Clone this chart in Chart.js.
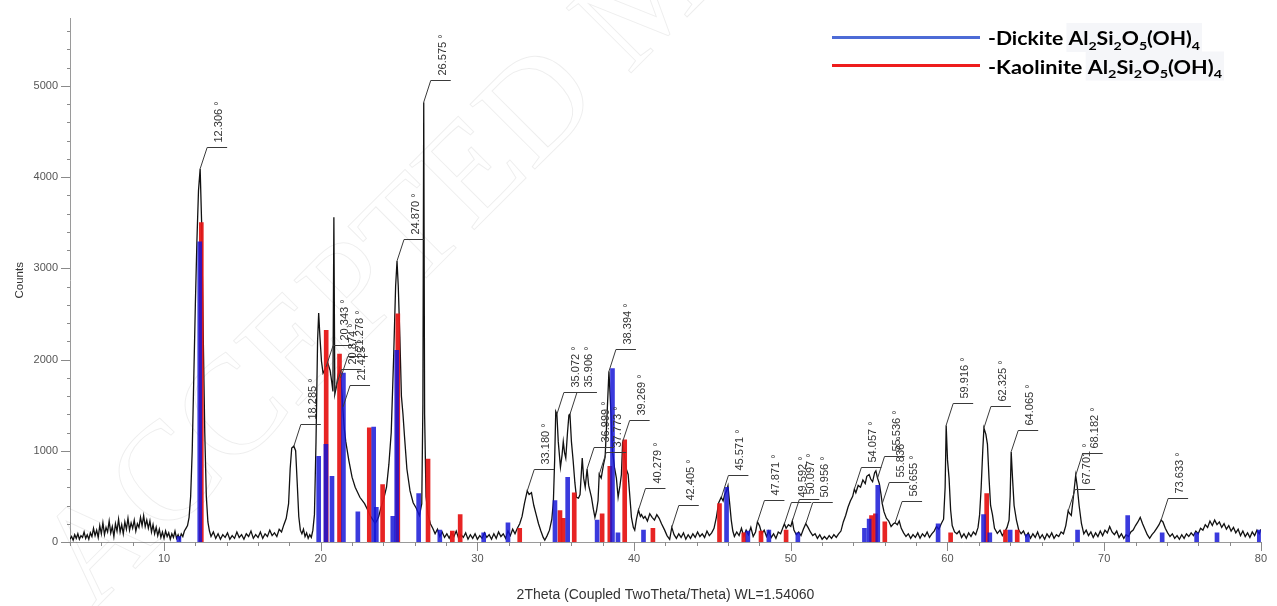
<!DOCTYPE html>
<html>
<head>
<meta charset="utf-8">
<title>XRD pattern – Dickite / Kaolinite</title>
<script src="https://cdn.jsdelivr.net/npm/chart.js@4.4.1/dist/chart.umd.min.js"></script>
<style>
  html, body { margin: 0; padding: 0; background: #fff; }
  canvas { display: block; }
</style>
</head>
<body>
<canvas id="xrd" width="1277" height="606"></canvas>
<script>
// Measured scan: [2theta (deg), counts]
const scan = [
  [4.0,30],[4.1,60],[4.2,20],[4.3,80],[4.4,40],[4.5,90],[4.6,30],[4.7,70],[4.8,50],[4.9,110],
  [5.0,40],[5.1,80],[5.2,30],[5.3,100],[5.4,60],[5.5,150],[5.6,70],[5.7,130],[5.8,50],[5.9,180],
  [6.0,90],[6.1,210],[6.2,80],[6.3,160],[6.4,110],[6.5,230],[6.6,100],[6.7,170],[6.8,60],[6.9,200],
  [7.0,120],[7.1,250],[7.2,110],[7.3,190],[7.4,90],[7.5,220],[7.6,140],[7.7,260],[7.8,130],[7.9,210],
  [8.0,150],[8.1,240],[8.2,120],[8.3,200],[8.4,160],[8.5,270],[8.6,180],[8.7,290],[8.8,170],[8.9,240],
  [9.0,150],[9.1,230],[9.2,110],[9.3,190],[9.4,90],[9.5,160],[9.6,70],[9.7,140],[9.8,50],[9.9,110],
  [10.0,40],[10.1,120],[10.2,60],[10.3,100],[10.4,30],[10.5,90],[10.6,50],[10.7,120],[10.8,40],[10.9,80],
  [11.0,30],[11.1,90],[11.2,60],[11.3,120],[11.4,150],[11.5,180],[11.6,270],[11.7,500],[11.8,1000],[11.9,1800],
  [12.0,2600],[12.1,3300],[12.2,3850],[12.306,4090],[12.4,3500],[12.5,2300],[12.6,1200],[12.7,500],[12.8,220],[12.9,120],
  [13.0,60],[13.15,110],[13.3,40],[13.45,90],[13.6,30],[13.75,80],[13.9,50],[14.05,100],[14.2,30],[14.35,70],
  [14.5,40],[14.65,110],[14.8,50],[14.95,80],[15.1,30],[15.25,90],[15.4,60],[15.55,120],[15.7,40],[15.85,80],
  [16.0,50],[16.15,110],[16.3,40],[16.45,90],[16.6,60],[16.75,130],[16.9,70],[17.05,100],[17.2,60],[17.35,140],
  [17.5,110],[17.65,190],[17.8,260],[17.95,420],[18.05,800],[18.15,1030],[18.285,1050],[18.4,1000],[18.5,650],[18.6,280],
  [18.7,130],[18.8,90],[18.9,140],[19.0,60],[19.1,100],[19.2,40],[19.3,80],[19.4,50],[19.5,130],[19.6,300],
  [19.7,1100],[19.8,2200],[19.87,2510],[19.95,2250],[20.05,1980],[20.15,1850],[20.3,1900],[20.45,1960],[20.6,1880],[20.7,1760],
  [20.78,1650],[20.84,3560],[20.9,1620],[21.0,1700],[21.1,1820],[21.2,1900],[21.3,1750],[21.4,1500],[21.5,1250],[21.6,1100],
  [21.8,890],[22.0,710],[22.2,600],[22.5,490],[22.8,420],[23.0,350],[23.15,290],[23.3,250],[23.47,205],[23.6,240],
  [23.7,280],[23.85,380],[24.0,460],[24.2,600],[24.35,850],[24.5,1200],[24.65,2000],[24.78,2800],[24.87,3080],[24.95,2800],
  [25.05,2250],[25.15,1600],[25.25,1400],[25.35,1150],[25.5,800],[25.7,560],[25.9,430],[26.1,370],[26.3,290],[26.45,420],
  [26.52,1500],[26.575,4820],[26.63,1400],[26.72,500],[26.85,300],[27.0,200],[27.15,150],[27.3,90],[27.45,140],[27.6,60],
  [27.75,110],[27.9,50],[28.05,90],[28.2,40],[28.35,100],[28.5,60],[28.65,120],[28.8,40],[28.95,80],[29.1,50],
  [29.25,100],[29.4,30],[29.55,80],[29.7,40],[29.85,90],[30.0,30],[30.15,70],[30.3,40],[30.45,100],[30.6,50],
  [30.75,80],[30.9,30],[31.05,90],[31.2,40],[31.35,110],[31.5,60],[31.65,90],[31.8,40],[31.95,120],[32.1,70],
  [32.25,140],[32.4,90],[32.55,150],[32.7,200],[32.85,280],[33.0,420],[33.18,560],[33.3,520],[33.45,540],[33.6,400],
  [33.75,300],[33.9,200],[34.05,120],[34.2,50],[34.3,20],[34.45,70],[34.6,130],[34.75,250],[34.85,450],[34.93,900],
  [35.0,1430],[35.072,1400],[35.16,1100],[35.3,820],[35.4,950],[35.48,1100],[35.56,980],[35.64,920],[35.75,1200],[35.84,1390],
  [35.906,1400],[36.0,1100],[36.11,890],[36.22,650],[36.32,490],[36.45,480],[36.55,520],[36.69,920],[36.78,700],[36.88,600],
  [36.999,800],[37.1,620],[37.28,490],[37.4,360],[37.5,270],[37.6,340],[37.7,455],[37.773,740],[37.9,700],[38.05,850],
  [38.15,930],[38.25,1300],[38.394,1870],[38.5,1500],[38.62,1000],[38.75,815],[38.87,700],[38.98,490],[39.1,620],[39.19,740],
  [39.269,1100],[39.35,1000],[39.5,800],[39.62,740],[39.75,450],[39.83,270],[39.95,160],[40.04,130],[40.15,250],[40.279,350],
  [40.4,280],[40.47,300],[40.6,260],[40.7,280],[40.85,230],[41.0,310],[41.15,270],[41.3,240],[41.45,300],[41.6,260],
  [41.75,200],[41.95,130],[42.1,70],[42.27,30],[42.405,160],[42.55,80],[42.7,40],[42.85,90],[43.0,50],[43.15,100],
  [43.3,30],[43.45,80],[43.6,40],[43.75,90],[43.9,50],[44.05,110],[44.2,60],[44.35,90],[44.5,50],[44.65,120],
  [44.8,70],[44.95,100],[45.1,150],[45.25,270],[45.4,430],[45.56,490],[45.68,450],[45.78,520],[45.9,560],[45.99,615],
  [46.1,420],[46.2,240],[46.3,120],[46.4,60],[46.55,110],[46.7,70],[46.85,150],[47.0,60],[47.15,130],[47.3,80],
  [47.45,160],[47.6,60],[47.75,110],[47.871,220],[48.0,180],[48.15,90],[48.3,130],[48.45,60],[48.6,120],[48.75,50],
  [48.9,90],[49.05,40],[49.2,110],[49.35,90],[49.5,160],[49.592,200],[49.7,150],[49.85,190],[50.0,170],[50.097,230],
  [50.2,130],[50.35,80],[50.5,110],[50.65,70],[50.8,140],[50.956,200],[51.1,160],[51.25,110],[51.4,70],[51.55,90],
  [51.7,40],[51.85,80],[52.0,30],[52.15,60],[52.3,30],[52.45,70],[52.6,40],[52.75,80],[52.9,50],[53.05,90],
  [53.2,120],[53.35,220],[53.5,290],[53.65,380],[53.8,450],[53.95,500],[54.057,580],[54.15,540],[54.3,620],[54.45,600],
  [54.6,680],[54.75,640],[54.85,720],[55.0,740],[55.1,690],[55.22,660],[55.35,760],[55.43,780],[55.536,700],[55.65,640],
  [55.76,520],[55.836,420],[55.95,330],[56.1,260],[56.25,230],[56.4,170],[56.55,200],[56.655,210],[56.8,190],[56.92,230],
  [57.05,150],[57.2,100],[57.35,60],[57.5,90],[57.65,40],[57.8,80],[57.95,50],[58.1,100],[58.25,40],[58.4,90],
  [58.55,60],[58.7,110],[58.85,50],[59.0,90],[59.15,120],[59.3,170],[59.45,140],[59.6,200],[59.75,250],[59.85,600],
  [59.916,1280],[60.0,900],[60.1,700],[60.2,350],[60.3,180],[60.45,110],[60.6,90],[60.75,120],[60.9,50],[61.05,90],
  [61.2,40],[61.35,100],[61.5,60],[61.65,110],[61.8,80],[61.95,160],[62.05,300],[62.15,600],[62.25,1000],[62.325,1250],
  [62.45,1180],[62.55,1070],[62.65,700],[62.75,400],[62.87,300],[63.0,150],[63.18,95],[63.35,130],[63.5,70],[63.65,110],
  [63.8,160],[63.93,240],[64.0,500],[64.065,990],[64.15,700],[64.25,400],[64.4,240],[64.55,130],[64.7,90],[64.85,120],
  [65.0,60],[65.15,100],[65.3,40],[65.45,90],[65.6,50],[65.75,110],[65.9,40],[66.05,80],[66.2,30],[66.35,90],
  [66.5,50],[66.65,100],[66.8,40],[66.95,80],[67.1,60],[67.25,110],[67.4,90],[67.55,180],[67.701,340],[67.8,310],
  [67.9,290],[68.0,440],[68.1,600],[68.182,730],[68.28,610],[68.4,400],[68.55,200],[68.7,90],[68.85,130],[69.0,70],
  [69.15,110],[69.3,50],[69.45,100],[69.6,60],[69.75,120],[69.9,70],[70.05,130],[70.2,100],[70.35,170],[70.5,110],
  [70.65,80],[70.8,120],[70.95,50],[71.1,90],[71.25,40],[71.4,80],[71.55,60],[71.7,110],[71.85,130],[72.0,180],
  [72.15,220],[72.3,270],[72.45,200],[72.6,140],[72.75,80],[72.9,40],[73.05,80],[73.2,110],[73.35,150],[73.5,190],
  [73.633,240],[73.75,220],[73.9,150],[74.05,100],[74.2,60],[74.35,90],[74.5,40],[74.65,70],[74.8,30],[74.95,80],
  [75.1,40],[75.25,90],[75.4,60],[75.55,100],[75.7,70],[75.85,120],[76.0,90],[76.15,150],[76.3,130],[76.45,190],
  [76.6,160],[76.75,230],[76.9,180],[77.05,240],[77.2,190],[77.35,220],[77.5,160],[77.65,200],[77.8,140],[77.95,180],
  [78.1,120],[78.25,160],[78.4,100],[78.55,140],[78.7,70],[78.85,120],[79.0,60],[79.15,100],[79.3,50],[79.45,110],
  [79.6,70],[79.75,130],[79.9,90],[80.0,140]
];

// Reference stick patterns
const dickiteTheta  = [10.95, 12.28, 19.87, 20.33, 20.72, 21.45, 22.37, 23.38, 23.55, 24.6, 24.85, 26.25, 27.6, 30.4, 31.95, 34.95, 35.76, 37.64, 38.62, 38.97, 40.6, 45.9, 47.26, 48.6, 50.45, 54.7, 55.0, 55.55, 59.4, 62.3, 62.7, 64.0, 65.1, 68.3, 71.5, 73.7, 75.9, 77.2, 79.9];
const dickiteCounts = [60, 3290, 940, 1070, 720, 1850, 330, 1260, 380, 280, 2100, 530, 130, 100, 210, 455, 710, 240, 1900, 100, 130, 600, 120, 130, 100, 150, 250, 620, 200, 300, 100, 130, 80, 130, 290, 100, 100, 100, 130];

const kaoliniteTheta  = [12.38, 20.35, 21.2, 23.1, 23.95, 24.92, 26.85, 28.4, 28.9, 32.7, 35.27, 35.48, 36.18, 37.96, 38.45, 39.4, 41.2, 45.45, 47.0, 48.1, 49.7, 55.15, 55.4, 56.0, 60.2, 62.5, 63.7, 64.45];
const kaoliniteCounts = [3500, 2320, 2060, 1250, 630, 2500, 910, 120, 300, 150, 345, 260, 540, 310, 830, 1120, 150, 420, 100, 120, 130, 290, 310, 220, 100, 530, 130, 130];

// Peak positions marked on the scan, with the counts at each marked peak
const peakTheta  = [12.306, 18.285, 20.343, 20.874, 21.278, 21.425, 24.870, 26.575, 33.180, 35.072, 35.906, 36.999, 37.773, 38.394, 39.269, 40.279, 42.405, 45.571, 47.871, 49.592, 50.097, 50.956, 54.057, 55.536, 55.836, 56.655, 59.916, 62.325, 64.065, 67.701, 68.182, 73.633];
const peakCounts = [4090, 1050, 1920, 1650, 1800, 1480, 3080, 4820, 560, 1400, 1400, 800, 740, 1870, 1100, 350, 160, 490, 220, 200, 230, 200, 580, 700, 420, 210, 1280, 1250, 990, 340, 730, 240];

// Axis ticks
const xTickValues = [10, 20, 30, 40, 50, 60, 70, 80];
const yTickValues = [0, 1000, 2000, 3000, 4000, 5000];
const X_MIN = 4, X_MAX = 80, Y_MAX = 5736;

// Legend entries
const phaseNames = ['Dickite', 'Kaolinite'];
const phaseFormula = [['Al', ''], ['2', 'sub'], ['Si', ''], ['2', 'sub'], ['O', ''], ['5', 'sub'], ['(OH)', ''], ['4', 'sub']];

const toXY = (xs, ys) => xs.map((x, i) => ({ x, y: ys[i] }));

// Faint diagonal stamp behind the data
const stampPlugin = {
  id: 'stamp',
  beforeDatasetsDraw(chart) {
    const ctx = chart.ctx;
    ctx.save();
    ctx.translate(92, 612);
    ctx.rotate(-Math.PI / 4);
    ctx.font = '140px "Liberation Serif", serif';
    ctx.strokeStyle = 'rgba(0,0,0,0.07)';
    ctx.lineWidth = 1;
    ctx.strokeText('ACCEPTED MANUSCRIPT', 0, 0);
    ctx.restore();
  }
};

// Major and minor tick marks on both axes
const tickPlugin = {
  id: 'tickMarks',
  afterDraw(chart) {
    const { ctx, chartArea: a, scales: { x, y } } = chart;
    ctx.save();
    ctx.strokeStyle = '#8a8a8a';
    ctx.lineWidth = 1;
    ctx.beginPath();
    for (let v = 0; v <= Y_MAX; v += 200) {
      const py = Math.round(y.getPixelForValue(v)) + 0.5;
      const len = v % 1000 === 0 ? 9 : 3;
      ctx.moveTo(a.left - len, py);
      ctx.lineTo(a.left, py);
    }
    for (let v = X_MIN; v <= X_MAX; v += 2) {
      const px = Math.round(x.getPixelForValue(v)) + 0.5;
      const len = v % 10 === 0 ? 9 : 4;
      ctx.moveTo(px, a.bottom);
      ctx.lineTo(px, a.bottom + len);
    }
    ctx.stroke();
    ctx.restore();
  }
};

// Peak position labels with leader lines
const peakLabelPlugin = {
  id: 'peakLabels',
  afterDatasetsDraw(chart) {
    const { ctx, scales: { x, y } } = chart;
    ctx.save();
    ctx.strokeStyle = '#3a3a3a';
    ctx.fillStyle = '#333';
    ctx.lineWidth = 1;
    ctx.font = '11px "Liberation Sans", Arial, sans-serif';
    ctx.textAlign = 'left';
    ctx.textBaseline = 'middle';
    peakTheta.forEach((t, i) => {
      const px = x.getPixelForValue(t);
      const py = y.getPixelForValue(peakCounts[i]);
      const cx = px + 7, cy = Math.round(py - 22) + 0.5;
      ctx.beginPath();
      ctx.moveTo(px, py);
      ctx.lineTo(cx, cy);
      ctx.lineTo(cx + 20, cy);
      ctx.stroke();
      ctx.save();
      ctx.translate(cx + 12, cy - 5);
      ctx.rotate(-Math.PI / 2);
      ctx.fillText(t.toFixed(3) + ' \u00B0', 0, 0);
      ctx.restore();
    });
    ctx.restore();
  }
};

// Phase legend with subscripted formula
const phaseLegendPlugin = {
  id: 'phaseLegend',
  afterDraw(chart) {
    const ctx = chart.ctx;
    const rows = [
      { color: '#4d6bd6', lineY: 37.5, base: 45, width: 212 },
      { color: '#ee1c1c', lineY: 65.5, base: 73.5, width: 234 }
    ];
    const mainFont = 'bold 18px Lato, "Open Sans", sans-serif';
    const subFont = 'bold 12px Lato, "Open Sans", sans-serif';
    rows.forEach((r, i) => {
      ctx.save();
      ctx.strokeStyle = r.color;
      ctx.lineWidth = 3;
      ctx.beginPath();
      ctx.moveTo(832, r.lineY);
      ctx.lineTo(980, r.lineY);
      ctx.stroke();

      const parts = [['-' + phaseNames[i] + ' ', '']].concat(phaseFormula);
      const widths = parts.map(([s, k]) => { ctx.font = k ? subFont : mainFont; return ctx.measureText(s).width; });
      const total = widths.reduce((a, b) => a + b, 0);
      const sx = r.width / total;
      const x0 = 988;
      const formulaStart = x0 + widths[0] * sx;
      ctx.fillStyle = '#f5f6f9';
      ctx.fillRect(formulaStart - 2, r.base - 22, r.width - widths[0] * sx + 4, 29);

      ctx.translate(x0, r.base);
      ctx.scale(sx, 1);
      ctx.fillStyle = '#000';
      ctx.textBaseline = 'alphabetic';
      let cx = 0;
      parts.forEach(([s, k], j) => {
        ctx.font = k ? subFont : mainFont;
        ctx.fillText(s, cx, k ? 4.5 : 0);
        cx += widths[j];
      });
      ctx.restore();
    });
  }
};

const tickFont = { family: '"Liberation Sans", Arial, sans-serif', size: 11 };

new Chart(document.getElementById('xrd'), {
  type: 'bar',
  data: {
    datasets: [
      {
        type: 'line',
        label: 'Scan',
        data: scan.map(([x, y]) => ({ x, y })),
        borderColor: '#111',
        borderWidth: 1.3,
        pointRadius: 0,
        tension: 0,
        fill: false,
        order: 3
      },
      {
        label: 'Kaolinite',
        data: toXY(kaoliniteTheta, kaoliniteCounts),
        backgroundColor: 'rgba(230,24,24,0.95)',
        barThickness: 4,
        grouped: false,
        order: 2
      },
      {
        label: 'Dickite',
        data: toXY(dickiteTheta, dickiteCounts),
        backgroundColor: 'rgba(20,20,215,0.84)',
        barThickness: 4,
        grouped: false,
        order: 1
      }
    ]
  },
  options: {
    responsive: false,
    animation: false,
    devicePixelRatio: 1,
    layout: { padding: { top: 12, right: 11, left: 0, bottom: 0 } },
    plugins: { legend: { display: false }, tooltip: { enabled: false } },
    scales: {
      x: {
        type: 'linear',
        min: X_MIN,
        max: X_MAX,
        offset: false,
        grid: { display: false, drawTicks: false, offset: false },
        border: { display: true, color: '#9a9a9a', width: 1 },
        afterBuildTicks: s => { s.ticks = xTickValues.map(v => ({ value: v })); },
        afterFit: s => { s.height = 64; },
        ticks: { font: tickFont, color: '#555', padding: 10, maxRotation: 0, autoSkip: false, callback: v => String(v) },
        title: {
          display: true,
          text: '2Theta (Coupled TwoTheta/Theta) WL=1.54060',
          font: { family: '"Liberation Sans", Arial, sans-serif', size: 14 },
          color: '#333',
          padding: { top: 0, bottom: 2 }
        }
      },
      y: {
        type: 'linear',
        min: 0,
        max: Y_MAX,
        grid: { display: false, drawTicks: false },
        border: { display: true, color: '#9a9a9a', width: 1 },
        afterBuildTicks: s => { s.ticks = yTickValues.map(v => ({ value: v })); },
        afterFit: s => { s.width = 70; },
        ticks: { font: tickFont, color: '#555', padding: 12, callback: v => String(v) },
        title: {
          display: true,
          text: 'Counts',
          font: { family: '"Liberation Sans", Arial, sans-serif', size: 11.5 },
          color: '#333',
          padding: { top: 13, bottom: 0 }
        }
      }
    }
  },
  plugins: [stampPlugin, tickPlugin, peakLabelPlugin, phaseLegendPlugin]
});
</script>
</body>
</html>
